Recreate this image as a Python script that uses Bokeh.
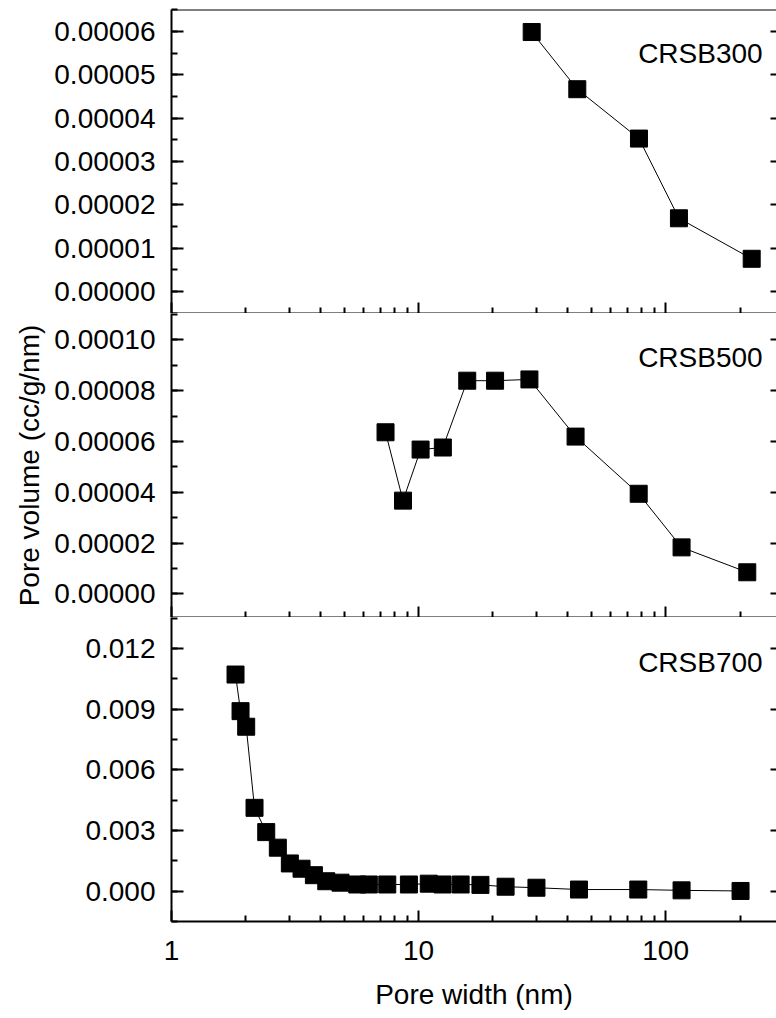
from bokeh.plotting import figure
from bokeh.layouts import column
from bokeh.models import (Range1d, LinearAxis, SingleIntervalTicker, FixedTicker,
                          PrintfTickFormatter, CustomJSTickFormatter, Label, Span)
from bokeh.embed import file_html
from bokeh.resources import INLINE

FONT = "Liberation Sans"
FS = "28px"

# ---------------- data ----------------
x_crsb300 = [28.7, 43.9, 78.0, 113.2, 223.0]
y_crsb300 = [5.99e-5, 4.67e-5, 3.53e-5, 1.69e-5, 0.755e-5]

x_crsb500 = [7.35, 8.65, 10.19, 12.54, 15.74, 20.4, 28.1, 43.2, 77.8, 116.0, 214.0]
y_crsb500 = [6.36e-5, 3.67e-5, 5.68e-5, 5.76e-5, 8.39e-5, 8.39e-5, 8.44e-5,
             6.19e-5, 3.94e-5, 1.83e-5, 0.85e-5]

x_crsb700 = [1.816, 1.903, 2.006, 2.168, 2.418, 2.694, 3.013, 3.36, 3.77, 4.23,
             4.83, 5.65, 6.29, 7.47, 9.14, 11.0, 12.5, 14.8, 17.8, 22.5,
             30.0, 44.6, 77.5, 116.0, 201.0]
y_crsb700 = [0.01071, 0.0089, 0.00813, 0.00412, 0.00292, 0.00215, 0.00137, 0.00111,
             0.00079, 0.00049, 0.00042, 0.00033, 0.00033, 0.00033, 0.00033, 0.00037,
             0.00033, 0.00033, 0.00031, 0.00022, 0.00017, 0.00008, 0.00008, 0.00004,
             0.00001]

x_major_ticks = [1, 10, 100]
x_minor_ticks = [2, 3, 4, 5, 6, 7, 8, 9, 20, 30, 40, 50, 60, 70, 80, 90, 200]

panel_names = ["CRSB300", "CRSB500", "CRSB700"]

# ---------------- layout ----------------
x_range = Range1d(1, 281)
EMPTY = CustomJSTickFormatter(code="return ''")


def style_axes(p, interval, fmt):
    yt = SingleIntervalTicker(interval=interval, num_minor_ticks=2)
    ya = p.yaxis[0]
    ya.ticker = yt
    ya.formatter = PrintfTickFormatter(format=fmt)
    ya.axis_line_width = 2
    ya.major_tick_in = 12
    ya.major_tick_out = 0
    ya.minor_tick_in = 6
    ya.minor_tick_out = 0
    ya.major_tick_line_width = 2
    ya.minor_tick_line_width = 2
    ya.major_label_text_font = FONT
    ya.major_label_text_font_size = FS
    ya.major_label_text_color = "black"
    ya.major_label_standoff = 16
    xa = p.xaxis[0]
    xa.ticker = FixedTicker(ticks=x_major_ticks, minor_ticks=x_minor_ticks)
    xa.formatter = PrintfTickFormatter(format="%d")
    xa.axis_line_width = 2
    xa.major_tick_in = 11
    xa.major_tick_out = 0
    xa.minor_tick_in = 6
    xa.minor_tick_out = 0
    xa.major_tick_line_width = 2
    xa.minor_tick_line_width = 2
    xa.major_label_text_font = FONT
    xa.major_label_text_font_size = FS
    xa.major_label_text_color = "black"
    # right-side inward ticks (spine lies just outside the picture)
    ra = LinearAxis(ticker=yt, formatter=EMPTY, axis_line_color=None,
                    major_tick_in=6, major_tick_out=0,
                    minor_tick_in=0, minor_tick_out=0, major_tick_line_width=2,
                    major_label_standoff=0)
    p.add_layout(ra, "right")
    p.xgrid.visible = False
    p.ygrid.visible = False
    p.outline_line_color = None


def make_panel(xs, ys, yr, interval, fmt, name, lab_y, top_border, bottom_labels, ylabel=None):
    p = figure(width=776, frame_height=304, x_axis_type="log", x_range=x_range,
               y_range=Range1d(*yr), output_backend="svg", toolbar_location=None,
               min_border_left=171, min_border_right=0,
               min_border_top=9 if top_border else 0, min_border_bottom=0)
    style_axes(p, interval, fmt)
    if not bottom_labels:
        p.xaxis[0].formatter = EMPTY
        p.xaxis[0].major_label_standoff = 0
    else:
        p.xaxis[0].major_label_standoff = 19
        p.xaxis[0].axis_label = "Pore width (nm)"
        p.xaxis[0].axis_label_text_font = FONT
        p.xaxis[0].axis_label_text_font_size = FS
        p.xaxis[0].axis_label_text_font_style = "normal"
        p.xaxis[0].axis_label_text_color = "black"
        p.xaxis[0].axis_label_standoff = 16
    if ylabel:
        p.yaxis[0].axis_label = ylabel
        p.yaxis[0].axis_label_text_font = FONT
        p.yaxis[0].axis_label_text_font_size = FS
        p.yaxis[0].axis_label_text_font_style = "normal"
        p.yaxis[0].axis_label_text_color = "black"
        p.yaxis[0].axis_label_standoff = 6
    if top_border:
        p.add_layout(Span(location=yr[1], dimension="width", line_color="black", line_width=2))
    p.line(xs, ys, line_color="black", line_width=1)
    p.scatter(xs, ys, marker="square", size=17, fill_color="black", line_color="black")
    p.add_layout(Label(x=247, y=lab_y, text=name, text_align="right",
                       text_baseline="alphabetic", text_font=FONT, text_font_size=FS,
                       text_color="black"))
    return p


p1 = make_panel(x_crsb300, y_crsb300, (-5.08e-6, 6.51e-5), 1e-5, "%.5f",
                panel_names[0], 5.49e-5, True, False)
p2 = make_panel(x_crsb500, y_crsb500, (-9.3e-6, 1.1035e-4), 2e-5, "%.5f",
                panel_names[1], 9.31e-5, False, False, ylabel="Pore volume (cc/g/nm)")
p3 = make_panel(x_crsb700, y_crsb700, (-0.0015, 0.01353), 0.003, "%.3f",
                panel_names[2], 0.01132, False, True)

layout = column(p1, p2, p3, spacing=0)

open("out.html", "w").write(file_html(layout, INLINE))
